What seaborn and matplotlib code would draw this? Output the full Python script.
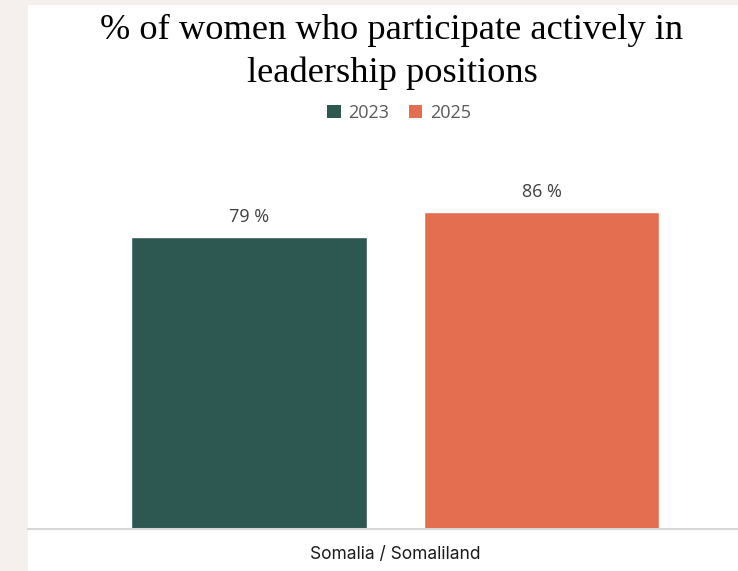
import matplotlib
matplotlib.use("Agg")
import matplotlib.pyplot as plt
from matplotlib.patches import Rectangle
import seaborn as sns
import pandas as pd

# data
regions = ['Somalia / Somaliland', 'Somalia / Somaliland']
years = ['2023', '2025']
values = [79, 86]
year_colors = ['#2d5751', '#e46e50']

df = pd.DataFrame({'Region': regions, 'Year': years, 'Value': values})

sns.set_theme(style='white')

fig = plt.figure(figsize=(7.38, 5.71), dpi=100)
fig.patch.set_facecolor('#f5f0ed')
# white panel, beige strip on the left and top
bg = fig.add_axes([28 / 738, 0, 1 - 28 / 738, 1 - 5 / 571])
bg.set_facecolor('white')
bg.set_xticks([])
bg.set_yticks([])
for s in bg.spines.values():
    s.set_visible(False)
bg.set_zorder(0)

ax = fig.add_axes([28 / 738, 42 / 571, 710 / 738, 369 / 571])
ax.set_facecolor('none')
ax.set_zorder(1)

sns.barplot(data=df, x='Region', y='Value', hue='Year', palette=year_colors,
            saturation=1, width=0.8, gap=0.195, ax=ax, legend=False)

ax.set_ylim(0, 100)
ax.set_xlim(-0.5022, 0.4688)

# data labels
for cont in ax.containers:
    ax.bar_label(cont, fmt='{:.0f} %', padding=8, fontsize=13,
                 color='#404040', family='Open Sans')

ax.set_xlabel('')
ax.set_ylabel('')
ax.set_yticks([])
for side in ['top', 'left', 'right']:
    ax.spines[side].set_visible(False)
ax.spines['bottom'].set_color('#d9d9d9')
ax.spines['bottom'].set_linewidth(1.5)
ax.tick_params(axis='x', length=0, pad=12, labelsize=12.5, labelcolor='#1a1a1a')
for lbl in ax.get_xticklabels():
    lbl.set_family('Inter')

# title
fig.text(392 / 738, 1 - 30 / 571, '% of women who participate actively in',
         ha='center', va='center', fontsize=26.2, family='Liberation Serif', color='black')
fig.text(392 / 738, 1 - 73 / 571, 'leadership positions',
         ha='center', va='center', fontsize=26.2, family='Liberation Serif', color='black')

# legend
handles = [Rectangle((0, 0), 1, 1, facecolor=c, edgecolor='none') for c in year_colors]
leg = fig.legend(handles, years, loc='center', bbox_to_anchor=(399 / 738, 1 - 113 / 571),
                 ncol=2, frameon=False, handlelength=0.75, handleheight=0.75,
                 handletextpad=0.4, columnspacing=1.1,
                 prop={'family': 'Open Sans', 'size': 13})
for t in leg.get_texts():
    t.set_color('#595959')

fig.savefig('out.png', dpi=100)
